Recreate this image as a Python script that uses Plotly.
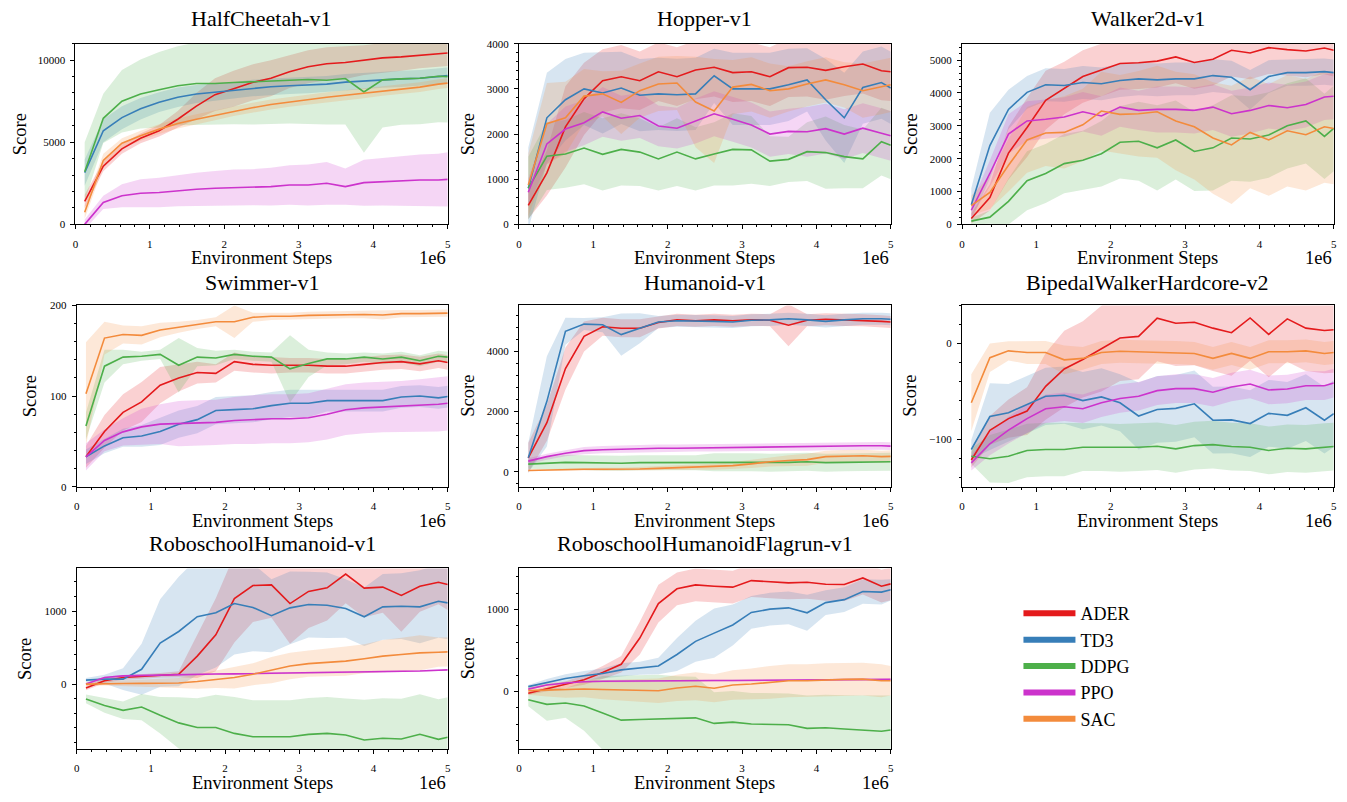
import plotly.graph_objects as go

# ---------------- data (x in units of 1e6 environment steps) ----------------
STEPS = [0.125, 0.375, 0.625, 0.875, 1.125, 1.375, 1.625, 1.875, 2.125, 2.375, 2.625,
         2.875, 3.125, 3.375, 3.625, 3.875, 4.125, 4.375, 4.625, 4.875, 5.0]
ALGOS = ["ADER", "TD3", "DDPG", "PPO", "SAC"]
X_TICKS = [0, 1, 2, 3, 4, 5]

# HalfCheetah-v1
HC_ADER = [1400, 3540, 4600, 5240, 5700, 6400, 7200, 7900, 8260, 8640, 8900, 9300, 9600, 9780, 9860, 10000, 10140, 10200, 10300, 10400, 10440]
HC_ADER_SD = [400, 300, 300, 300, 350, 500, 800, 1000, 1100, 1100, 1100, 1000, 1000, 1000, 1000, 900, 900, 850, 800, 800, 800]
HC_TD3 = [3150, 5700, 6500, 7040, 7440, 7740, 7940, 8060, 8160, 8300, 8380, 8440, 8480, 8540, 8660, 8740, 8820, 8860, 8900, 9020, 9060]
HC_TD3_SD = [800, 700, 700, 650, 600, 600, 550, 550, 500, 500, 500, 500, 500, 500, 500, 500, 500, 500, 500, 500, 500]
HC_DDPG = [3200, 6460, 7500, 7940, 8200, 8440, 8580, 8580, 8640, 8680, 8720, 8800, 8820, 8780, 8880, 8060, 8800, 8860, 8900, 9020, 9000]
HC_DDPG_SD = [1800, 1500, 1900, 2100, 2300, 2400, 2500, 2500, 2550, 2600, 2600, 2650, 2700, 2700, 2800, 3700, 2900, 2800, 2800, 2800, 2800]
HC_PPO = [0, 1340, 1740, 1900, 1940, 2060, 2140, 2200, 2240, 2260, 2300, 2400, 2400, 2500, 2300, 2540, 2600, 2640, 2700, 2700, 2740]
HC_PPO_SD = [300, 400, 700, 850, 900, 950, 1000, 1050, 1100, 1100, 1150, 1200, 1250, 1300, 1100, 1400, 1450, 1500, 1550, 1600, 1650]
HC_SAC = [740, 3900, 4940, 5400, 5800, 6140, 6400, 6640, 6900, 7100, 7300, 7460, 7580, 7740, 7860, 7980, 8140, 8260, 8360, 8540, 8600]
HC_SAC_SD = [400, 400, 300, 300, 300, 300, 300, 300, 300, 300, 300, 300, 300, 300, 300, 300, 300, 300, 300, 300, 300]

# Hopper-v1
HO_ADER = [420, 1140, 2160, 2780, 3180, 3270, 3180, 3380, 3270, 3420, 3480, 3360, 3380, 3270, 3470, 3480, 3410, 3490, 3550, 3400, 3380]
HO_ADER_SD = [300, 500, 900, 800, 700, 700, 650, 650, 650, 650, 650, 650, 650, 650, 650, 650, 650, 650, 650, 650, 650]
HO_TD3 = [800, 2360, 2760, 3000, 2910, 3020, 2860, 2890, 2870, 2890, 3290, 3000, 3000, 3000, 3090, 3200, 2760, 2360, 3030, 3140, 3020]
HO_TD3_SD = [900, 1000, 900, 800, 900, 800, 800, 800, 800, 800, 600, 800, 800, 800, 800, 700, 900, 1000, 800, 800, 800]
HO_DDPG = [800, 1510, 1560, 1690, 1550, 1660, 1600, 1450, 1600, 1450, 1560, 1660, 1650, 1400, 1440, 1610, 1590, 1500, 1450, 1830, 1750]
HO_DDPG_SD = [700, 750, 750, 800, 800, 800, 750, 700, 750, 700, 700, 800, 750, 550, 500, 650, 800, 700, 650, 750, 750]
HO_PPO = [710, 1780, 2110, 2250, 2490, 2350, 2410, 2180, 2130, 2290, 2450, 2330, 2200, 2000, 2060, 2050, 2120, 2000, 2130, 2020, 1960]
HO_PPO_SD = [300, 450, 500, 500, 550, 500, 500, 450, 450, 500, 500, 500, 500, 500, 500, 550, 550, 550, 550, 550, 550]
HO_SAC = [870, 2230, 2360, 2840, 2890, 2700, 2960, 3110, 3130, 2710, 2510, 3040, 3100, 2960, 3000, 3110, 3200, 3090, 2960, 3040, 3090]
HO_SAC_SD = [700, 900, 800, 600, 500, 700, 600, 600, 600, 1000, 1150, 600, 600, 600, 500, 500, 500, 500, 600, 600, 600]

# Walker2d-v1
WA_ADER = [180, 820, 2170, 2950, 3780, 4150, 4500, 4700, 4900, 4920, 4970, 5100, 4930, 5030, 5300, 5220, 5380, 5320, 5280, 5370, 5300]
WA_ADER_SD = [150, 400, 800, 900, 900, 800, 800, 800, 800, 800, 800, 800, 800, 800, 800, 800, 800, 800, 800, 800, 800]
WA_TD3 = [600, 2400, 3500, 4020, 4250, 4230, 4320, 4280, 4380, 4430, 4400, 4430, 4430, 4530, 4480, 4100, 4500, 4620, 4620, 4650, 4620]
WA_TD3_SD = [500, 1000, 600, 500, 500, 500, 500, 500, 500, 500, 500, 500, 500, 500, 500, 600, 500, 400, 400, 400, 400]
WA_DDPG = [100, 220, 700, 1330, 1550, 1850, 1950, 2150, 2500, 2530, 2330, 2570, 2220, 2330, 2630, 2600, 2720, 3000, 3150, 2680, 2920]
WA_DDPG_SD = [100, 200, 700, 900, 900, 900, 900, 1000, 1100, 1200, 1300, 1200, 1200, 1300, 1300, 1300, 1300, 1300, 1300, 1300, 1300]
WA_PPO = [430, 1550, 2750, 3150, 3200, 3270, 3430, 3300, 3570, 3470, 3500, 3500, 3470, 3570, 3370, 3470, 3620, 3550, 3650, 3880, 3900]
WA_PPO_SD = [200, 400, 600, 600, 600, 600, 600, 600, 600, 600, 700, 700, 700, 700, 700, 700, 700, 700, 700, 700, 700]
WA_SAC = [570, 970, 1800, 2570, 2780, 2800, 3030, 3450, 3350, 3370, 3430, 3150, 2970, 2630, 2420, 2800, 2570, 2850, 2730, 2970, 2920]
WA_SAC_SD = [300, 500, 800, 1000, 1000, 1100, 1100, 1200, 1200, 1300, 1400, 1500, 1600, 1700, 1800, 1700, 1700, 1700, 1700, 1700, 1700]

# Swimmer-v1
SW_ADER = [33, 61, 82, 93.5, 112, 120, 126, 125, 138, 135, 134, 134, 134, 133, 133, 135, 137, 138, 135.5, 139, 137]
SW_ADER_SD = [12, 18, 20, 22, 20, 15, 12, 10, 10, 9, 9, 8, 8, 8, 8, 8, 8, 8, 8, 8, 8]
SW_TD3 = [33, 45, 54, 56, 61, 69, 74, 84, 85, 86, 89.5, 92, 92, 95, 95, 95, 95, 99, 100, 98, 99.5]
SW_TD3_SD = [8, 8, 10, 12, 15, 15, 15, 15, 15, 15, 15, 15, 15, 12, 12, 12, 12, 12, 12, 12, 12]
SW_DDPG = [67, 133, 143, 144, 146, 134, 143, 142, 146, 144, 143, 130, 136, 141, 141, 143, 141, 143, 139, 144, 143]
SW_DDPG_SD = [15, 18, 8, 5, 5, 30, 10, 8, 5, 5, 5, 37, 15, 7, 6, 5, 6, 6, 6, 6, 6]
SW_PPO = [33, 51, 60.5, 66, 69, 69.5, 70.5, 71, 73, 74, 75, 75, 76, 80, 85, 87, 88, 88.5, 89.5, 91, 92]
SW_PPO_SD = [15, 12, 15, 20, 22, 25, 25, 25, 26, 27, 27, 27, 27, 28, 28, 28, 28, 28, 29, 30, 30]
SW_SAC = [102.5, 164, 168, 167, 173, 176, 179, 182, 182, 187, 188, 188, 189, 189.5, 190, 190, 189.5, 191, 191, 191.5, 191.5]
SW_SAC_SD = [57, 18, 10, 10, 8, 6, 5, 5, 18, 5, 4, 4, 4, 4, 4, 4, 5, 4, 4, 4, 4]

# Humanoid-v1
HU_ADER = [460, 1630, 3430, 4500, 4820, 4770, 4770, 4960, 5050, 5020, 5050, 5020, 5050, 5040, 4870, 5040, 5070, 5050, 5040, 5000, 4980]
HU_ADER_SD = [500, 600, 700, 500, 300, 300, 300, 200, 200, 200, 200, 200, 200, 200, 700, 200, 200, 200, 200, 200, 200]
HU_TD3 = [460, 2340, 4670, 4910, 4890, 4560, 4770, 4980, 5020, 5020, 5000, 4980, 5040, 5050, 5090, 5050, 5000, 5050, 5090, 5090, 5070]
HU_TD3_SD = [500, 1500, 450, 200, 250, 700, 500, 200, 200, 200, 200, 200, 200, 200, 200, 200, 200, 200, 200, 200, 200]
HU_DDPG = [250, 290, 310, 300, 290, 280, 300, 300, 310, 300, 310, 320, 310, 300, 310, 330, 300, 310, 320, 320, 330]
HU_DDPG_SD = [150, 200, 250, 250, 250, 250, 250, 250, 250, 250, 300, 300, 300, 300, 300, 300, 300, 300, 300, 300, 300]
HU_PPO = [350, 500, 610, 700, 730, 750, 750, 780, 780, 790, 790, 800, 800, 810, 820, 830, 840, 850, 860, 860, 850]
HU_PPO_SD = [100, 100, 100, 120, 120, 120, 120, 120, 120, 120, 120, 120, 120, 120, 130, 130, 130, 130, 130, 130, 130]
HU_SAC = [40, 60, 70, 80, 80, 80, 90, 110, 130, 150, 160, 200, 260, 330, 370, 400, 500, 520, 530, 500, 510]
HU_SAC_SD = [30, 30, 30, 40, 50, 50, 60, 70, 80, 90, 100, 120, 140, 160, 180, 200, 200, 200, 200, 200, 200]

# BipedalWalkerHardcore-v2
BW_ADER = [-122, -91, -78.6, -70.7, -44.8, -26.6, -16.6, -5.2, 5.9, 7.6, 26.6, 21.4, 22.4, 16.2, 11.4, 26.9, 9.7, 25.9, 16.2, 13.8, 14.5]
BW_ADER_SD = [8, 15, 20, 25, 35, 40, 40, 45, 45, 45, 45, 45, 45, 45, 45, 45, 45, 45, 45, 45, 45]
BW_TD3 = [-111, -76.5, -72.4, -63.8, -55.2, -54.1, -59.7, -55.9, -62, -75.9, -69, -67.9, -63.1, -80.3, -80, -83.8, -73.1, -75.2, -67.2, -80.3, -73.4]
BW_TD3_SD = [10, 35, 30, 30, 30, 30, 30, 30, 30, 35, 35, 35, 35, 35, 35, 35, 35, 35, 35, 35, 35]
BW_DDPG = [-118, -120.7, -118, -112, -111, -111, -108.6, -108.6, -109.3, -108.6, -107.6, -110.3, -106.9, -105.9, -107.9, -108.6, -112, -109.7, -110.3, -108.6, -107.9]
BW_DDPG_SD = [8, 25, 28, 28, 28, 28, 25, 25, 25, 25, 25, 25, 25, 25, 25, 25, 25, 25, 25, 25, 25]
BW_PPO = [-125, -105, -90.7, -78.6, -68.3, -66.2, -68.3, -62, -57.6, -55.2, -49.3, -47.2, -47.2, -51, -45.5, -42.4, -48.6, -47.6, -44.1, -44.1, -41.4]
BW_PPO_SD = [8, 12, 14, 15, 15, 15, 15, 15, 15, 15, 15, 15, 15, 15, 15, 15, 15, 15, 15, 15, 15]
BW_SAC = [-62, -14.8, -7.6, -9.3, -9.3, -17, -15.5, -9.3, -8, -8.6, -8.6, -9.3, -10.3, -15.5, -10.3, -15.5, -8.6, -8.6, -7.6, -10.3, -9.3]
BW_SAC_SD = [30, 15, 10, 12, 12, 15, 12, 12, 12, 12, 12, 12, 12, 12, 12, 12, 12, 12, 12, 12, 12]

# RoboschoolHumanoid-v1
RH_ADER = [-54, 45, 90, 104, 122, 135, 383, 676, 1171, 1351, 1360, 1104, 1270, 1320, 1509, 1315, 1329, 1216, 1342, 1396, 1365]
RH_ADER_SD = [30, 30, 30, 30, 30, 40, 300, 500, 600, 500, 450, 550, 500, 450, 400, 400, 350, 500, 350, 300, 350]
RH_TD3 = [54, 68, 68, 203, 563, 721, 923, 977, 1104, 1050, 937, 1045, 1090, 1081, 1036, 923, 1059, 1068, 1059, 1135, 1113]
RH_TD3_SD = [30, 60, 150, 350, 600, 750, 800, 750, 700, 600, 500, 500, 450, 450, 400, 400, 450, 450, 500, 500, 500]
RH_DDPG = [-203, -293, -360, -315, -428, -532, -595, -595, -676, -721, -721, -721, -689, -676, -698, -766, -743, -752, -689, -757, -730]
RH_DDPG_SD = [60, 100, 120, 180, 250, 350, 400, 450, 500, 500, 500, 500, 500, 500, 500, 550, 550, 550, 550, 550, 550]
RH_PPO = [0, 90, 113, 120, 126, 130, 135, 138, 140, 143, 146, 150, 153, 157, 160, 165, 170, 175, 180, 190, 195]
RH_PPO_SD = [15, 12, 12, 12, 12, 12, 12, 12, 12, 12, 12, 12, 12, 12, 12, 12, 12, 12, 12, 12, 12]
RH_SAC = [0, 9, 9, 10, 12, 15, 36, 68, 90, 135, 190, 248, 280, 293, 315, 347, 383, 405, 428, 437, 441]
RH_SAC_SD = [30, 30, 40, 50, 60, 70, 100, 120, 150, 150, 180, 180, 180, 190, 200, 200, 220, 230, 240, 200, 200]

# RoboschoolHumanoidFlagrun-v1
FR_ADER = [-20, 32, 84, 144, 232, 332, 652, 1072, 1252, 1300, 1284, 1272, 1352, 1340, 1324, 1332, 1308, 1304, 1384, 1284, 1312]
FR_ADER_SD = [20, 30, 40, 60, 80, 100, 200, 230, 200, 200, 200, 200, 200, 200, 200, 200, 200, 200, 200, 200, 200]
FR_TD3 = [60, 112, 160, 192, 220, 264, 284, 312, 452, 612, 712, 812, 964, 1004, 1020, 960, 1084, 1120, 1220, 1212, 1240]
FR_TD3_SD = [20, 40, 50, 60, 60, 80, 80, 100, 200, 250, 300, 250, 200, 200, 200, 220, 150, 150, 150, 150, 130]
FR_DDPG = [-100, -156, -140, -176, -260, -348, -340, -336, -332, -320, -388, -372, -396, -404, -404, -448, -440, -456, -468, -484, -468]
FR_DDPG_SD = [80, 200, 180, 300, 450, 540, 540, 540, 520, 500, 380, 380, 380, 380, 380, 400, 400, 410, 420, 430, 420]
FR_PPO = [30, 80, 105, 120, 125, 128, 130, 130, 132, 133, 135, 135, 137, 137, 138, 140, 142, 145, 148, 148, 148]
FR_PPO_SD = [10, 10, 10, 10, 10, 10, 10, 10, 10, 10, 10, 10, 10, 10, 10, 10, 10, 10, 10, 10, 10]
FR_SAC = [12, 20, 25, 32, 25, 20, 15, 10, 44, 64, 40, 80, 92, 112, 132, 132, 144, 148, 152, 132, 132]
FR_SAC_SD = [50, 80, 100, 100, 120, 130, 140, 150, 160, 170, 170, 180, 190, 200, 200, 200, 200, 200, 200, 200, 180]

# ---------------- styling ----------------
COLORS = {"ADER": (228, 26, 28), "TD3": (55, 126, 184), "DDPG": (77, 175, 74),
          "PPO": (204, 51, 204), "SAC": (243, 139, 60)}
FONT = "Liberation Serif, Times New Roman, serif"
W, H = 1347, 802

def fx(p):
    return p / W

def fy(p):
    return 1 - p / H

# title, series, y-range, y dtick, y minor dtick, (left, right, top, bottom) px, score-label x px, title gap
PANELS = [
    ("HalfCheetah-v1", [(HC_ADER, HC_ADER_SD), (HC_TD3, HC_TD3_SD), (HC_DDPG, HC_DDPG_SD), (HC_PPO, HC_PPO_SD), (HC_SAC, HC_SAC_SD)],
     [0, 11000], 5000, 1000, (72.7, 446.7, 38.3, 221.7), 17.3, 11.0),
    ("Hopper-v1", [(HO_ADER, HO_ADER_SD), (HO_TD3, HO_TD3_SD), (HO_DDPG, HO_DDPG_SD), (HO_PPO, HO_PPO_SD), (HO_SAC, HO_SAC_SD)],
     [0, 4000], 1000, 200, (518.3, 891.7, 38.3, 221.7), 467.3, 11.0),
    ("Walker2d-v1", [(WA_ADER, WA_ADER_SD), (WA_TD3, WA_TD3_SD), (WA_DDPG, WA_DDPG_SD), (WA_PPO, WA_PPO_SD), (WA_SAC, WA_SAC_SD)],
     [0, 5500], 1000, 200, (963.3, 1336.7, 38.3, 221.7), 912.3, 11.0),
    ("Swimmer-v1", [(SW_ADER, SW_ADER_SD), (SW_TD3, SW_TD3_SD), (SW_DDPG, SW_DDPG_SD), (SW_PPO, SW_PPO_SD), (SW_SAC, SW_SAC_SD)],
     [0, 200], 100, 20, (74.0, 446.7, 304.0, 488.0), 27.3, 9.0),
    ("Humanoid-v1", [(HU_ADER, HU_ADER_SD), (HU_TD3, HU_TD3_SD), (HU_DDPG, HU_DDPG_SD), (HU_PPO, HU_PPO_SD), (HU_SAC, HU_SAC_SD)],
     [-500, 5530], 2000, 400, (518.3, 891.7, 304.0, 488.0), 466.7, 9.0),
    ("BipedalWalkerHardcore-v2", [(BW_ADER, BW_ADER_SD), (BW_TD3, BW_TD3_SD), (BW_DDPG, BW_DDPG_SD), (BW_PPO, BW_PPO_SD), (BW_SAC, BW_SAC_SD)],
     [-150, 40], 100, 20, (963.3, 1336.7, 304.0, 488.0), 910.7, 9.0),
    ("RoboschoolHumanoid-v1", [(RH_ADER, RH_ADER_SD), (RH_TD3, RH_TD3_SD), (RH_DDPG, RH_DDPG_SD), (RH_PPO, RH_PPO_SD), (RH_SAC, RH_SAC_SD)],
     [-890, 1585], 1000, 200, (74.0, 446.7, 571.0, 754.3), 22.3, 11.0),
    ("RoboschoolHumanoidFlagrun-v1", [(FR_ADER, FR_ADER_SD), (FR_TD3, FR_TD3_SD), (FR_DDPG, FR_DDPG_SD), (FR_PPO, FR_PPO_SD), (FR_SAC, FR_SAC_SD)],
     [-700, 1500], 1000, 200, (518.3, 891.7, 571.0, 754.3), 466.7, 11.0),
]

fig = go.Figure()
layout = dict(
    width=W, height=H, margin=dict(l=0, r=0, t=0, b=0),
    paper_bgcolor="white", plot_bgcolor="white",
    font=dict(family=FONT, color="black"),
    showlegend=True,
)
annotations = []

axis_common = dict(showgrid=False, zeroline=False, showline=True, linecolor="black",
                   linewidth=1, mirror=True, ticks="outside", ticklen=4, tickwidth=1,
                   tickcolor="black", tickfont=dict(family=FONT, size=11, color="black"))

for i, (title, series, yr, ydt, ymin, (l, r, t, b), score_x, tgap) in enumerate(PANELS):
    sfx = "" if i == 0 else str(i + 1)
    xref, yref = "x" + sfx, "y" + sfx
    layout["xaxis" + sfx] = dict(axis_common, domain=[fx(l), fx(r)], range=[0, 5], anchor=yref,
                                 tickvals=X_TICKS, ticktext=[str(v) for v in X_TICKS],
                                 ticklabelstandoff=5,
                                 minor=dict(dtick=0.2, ticklen=2, ticks="outside", tickcolor="black"))
    layout["yaxis" + sfx] = dict(axis_common, domain=[fy(b), fy(t)], range=yr, anchor=xref,
                                 dtick=ydt, tick0=0, tickformat="d", ticklabelstandoff=3,
                                 minor=dict(dtick=ymin, ticklen=2, ticks="outside", tickcolor="black"))
    # bands
    for name, (mean, sd) in zip(ALGOS, series):
        c = COLORS[name]
        upper = [m + s for m, s in zip(mean, sd)]
        lower = [m - s for m, s in zip(mean, sd)]
        fig.add_trace(go.Scatter(x=STEPS + STEPS[::-1], y=upper + lower[::-1], fill="toself",
                                 fillcolor="rgba(%d,%d,%d,0.2)" % c, line=dict(width=0),
                                 mode="lines", hoverinfo="skip", showlegend=False,
                                 xaxis=xref, yaxis=yref))
    # mean lines
    for name, (mean, sd) in zip(ALGOS, series):
        c = COLORS[name]
        fig.add_trace(go.Scatter(x=STEPS, y=mean, mode="lines", name=name,
                                 line=dict(color="rgb(%d,%d,%d)" % c, width=1.6),
                                 showlegend=False, xaxis=xref, yaxis=yref))
    cx = (l + r) / 2
    annotations.append(dict(text=title, x=fx(cx), y=fy(t - tgap), xref="paper", yref="paper",
                            xanchor="center", yanchor="bottom", showarrow=False,
                            font=dict(family=FONT, size=22, color="black")))
    annotations.append(dict(text="Environment Steps", x=fx(cx), y=fy(b + 46.5), xref="paper", yref="paper",
                            xanchor="center", yanchor="bottom", showarrow=False,
                            font=dict(family=FONT, size=18.5, color="black")))
    annotations.append(dict(text="1e6", x=fx(r), y=fy(b + 46.5), xref="paper", yref="paper",
                            xanchor="right", yanchor="bottom", showarrow=False,
                            font=dict(family=FONT, size=18.5, color="black")))
    annotations.append(dict(text="Score", x=fx(score_x), y=fy((t + b) / 2), xref="paper", yref="paper",
                            xanchor="center", yanchor="middle", textangle=-90, showarrow=False,
                            font=dict(family=FONT, size=18.5, color="black")))

# legend entries
for name in ALGOS:
    c = COLORS[name]
    fig.add_trace(go.Scatter(x=[None], y=[None], mode="lines", name=name, legendgroup=name,
                             line=dict(color="rgb(%d,%d,%d)" % c, width=6), showlegend=True))

layout["legend"] = dict(x=fx(1020), y=fy(598), xanchor="left", yanchor="top",
                        font=dict(family=FONT, size=18, color="black"),
                        bgcolor="rgba(0,0,0,0)", tracegroupgap=0, itemwidth=52)
layout["annotations"] = annotations
fig.update_layout(**layout)

fig.write_html("out.html", config={"displayModeBar": False},
               post_script="document.body.style.margin='0';")
